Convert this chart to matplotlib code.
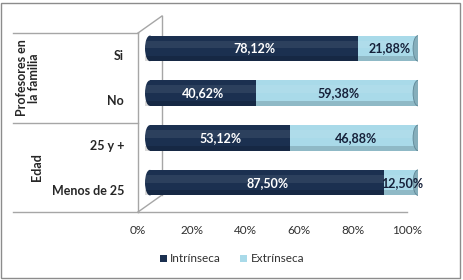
import matplotlib
matplotlib.use("Agg")
import matplotlib.pyplot as plt
from matplotlib.patches import Rectangle, Ellipse, Patch
from matplotlib.lines import Line2D

plt.rcParams['font.family'] = ['Lato', 'DejaVu Sans']

categories = ["Si", "No", "25 y +", "Menos de 25"]
groups = ["Profesores en\nla familia", "Edad"]
intrinseca = [78.12, 40.62, 53.12, 87.50]
extrinseca = [21.88, 59.38, 46.88, 12.50]
series_names = ["Intrínseca", "Extrínseca"]
xticks = [0, 20, 40, 60, 80, 100]
xtick_labels = ["0%", "20%", "40%", "60%", "80%", "100%"]

c_dark = "#1b3050"
c_light = "#a9dae9"
c_cap = "#86aebb"
c_line = "#a6a6a6"

W, H = 464, 280
fig = plt.figure(figsize=(W / 100, H / 100), dpi=100)
fig.patch.set_facecolor("white")

# outer frame
fig.add_artist(Rectangle((1.5 / W, 2.5 / H), 459 / W, 275 / H, transform=fig.transFigure,
                         fill=False, edgecolor="#8c8c8c", lw=1.0))

# main (front plane) axes
ax = fig.add_axes([138 / W, 1 - 212 / H, 269 / W, 179 / H])
ax.set_xlim(0, 100)
ax.set_ylim(len(categories) - 0.5, -0.5)
ax.set_facecolor("none")
for s in ["top", "right"]:
    ax.spines[s].set_visible(False)
for s in ["left", "bottom"]:
    ax.spines[s].set_color(c_line)
    ax.spines[s].set_linewidth(1.0)
ax.set_xticks(xticks)
ax.set_xticklabels(xtick_labels, fontsize=8.5, color="#303030")
ax.set_yticks(range(len(categories)))
ax.set_yticklabels(categories, fontsize=9, fontweight="bold", color="#262626")
ax.tick_params(axis="x", length=0, pad=9)
ax.tick_params(axis="y", length=0, pad=10)

# 3D box decorations (in axes coords)
dx, dy = 24 / 269, 17 / 179
deco = [
    ([0, dx], [1, 1 + dy]),
    ([0, dx], [0, dy]),
    ([dx, dx], [dy, 1 + dy]),
    ([-125 / 269, 0], [1, 1]),
    ([-125 / 269, 0], [0.5, 0.5]),
    ([-125 / 269, 0], [0, 0]),
]
for xs, ys in deco:
    ax.add_line(Line2D(xs, ys, transform=ax.transAxes, color=c_line, lw=1.0, clip_on=False))

# group labels
ax.text(-110 / 269, 0.75, groups[0], transform=ax.transAxes, rotation=90, ha="center",
        va="center", fontsize=9, fontweight="bold", color="#262626", linespacing=1.05)
ax.text(-101 / 269, 0.25, groups[1], transform=ax.transAxes, rotation=90, ha="center",
        va="center", fontsize=9, fontweight="bold", color="#262626")

# bars axes (middle depth plane)
axb = fig.add_axes([145 / W, 1 - 205 / H, 273 / W, 179 / H])
axb.set_xlim(0, 100)
axb.set_ylim(len(categories) - 0.5, -0.5)
axb.axis("off")
axb.set_facecolor("none")

bh = 0.57
ypos = list(range(len(categories)))
ew = 3.6  # ellipse width in data units
totals = [a + b for a, b in zip(intrinseca, extrinseca)]
for i in ypos:
    axb.add_patch(Ellipse((ew / 2, i), ew, bh, color=c_dark, lw=0, zorder=2))
axb.barh(ypos, [v - ew / 2 for v in intrinseca], left=ew / 2, height=bh, color=c_dark,
         lw=0, zorder=3)
axb.barh(ypos, extrinseca, left=intrinseca, height=bh, color=c_light, lw=0, zorder=3)
for i in ypos:
    axb.add_patch(Ellipse((totals[i], i), ew, bh, facecolor=c_cap, edgecolor="#5f8796",
                          lw=0.6, zorder=6))
# subtle shading
axb.barh([y - bh * 0.15 for y in ypos], totals, height=bh * 0.3, color="white",
         alpha=0.08, lw=0, zorder=5)
axb.barh([y + bh * 0.4 for y in ypos], totals, height=bh * 0.2, color="black",
         alpha=0.15, lw=0, zorder=5)

def fmt(v):
    return f"{v:.2f}".replace(".", ",") + "%"

for i in ypos:
    axb.text(intrinseca[i] / 2 + 1, i, fmt(intrinseca[i]), ha="center", va="center",
             fontsize=9, fontweight="bold", color="white", zorder=7)
    axb.text(intrinseca[i] + extrinseca[i] / 2 + 0.6, i, fmt(extrinseca[i]), ha="center",
             va="center", fontsize=9, fontweight="bold", color="#16213a", zorder=7)

handles = [Patch(facecolor=c_dark, edgecolor="none"), Patch(facecolor=c_light, edgecolor="none")]
fig.legend(handles, series_names, loc="center", bbox_to_anchor=(0.5, 1 - 259 / H),
           ncol=2, frameon=False, fontsize=8.5, handlelength=0.6, handleheight=0.6,
           handletextpad=0.3, columnspacing=1.6, labelcolor="#303030")

fig.savefig("out.png", dpi=100, facecolor="white")
